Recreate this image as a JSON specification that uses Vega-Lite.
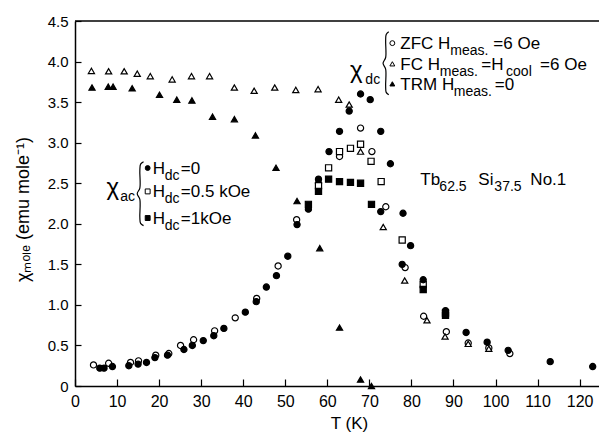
{
  "$schema": "https://vega.github.io/schema/vega-lite/v6.json",
  "width": 524,
  "height": 365,
  "autosize": {"type": "none"},
  "padding": {"left": 75, "top": 21, "right": 0, "bottom": 48},
  "background": "white",
  "config": {"view": {"stroke": null}, "font": "Liberation Sans"},
  "datasets": {
    "pts": [
      {"T": 4.4, "chi": 0.26, "s": "ZFC"}, {"T": 8.0, "chi": 0.28, "s": "ZFC"}, {"T": 13.2, "chi": 0.29, "s": "ZFC"}, {"T": 15.1, "chi": 0.31, "s": "ZFC"},
      {"T": 19.2, "chi": 0.38, "s": "ZFC"}, {"T": 22.3, "chi": 0.40, "s": "ZFC"}, {"T": 25.1, "chi": 0.50, "s": "ZFC"}, {"T": 28.2, "chi": 0.57, "s": "ZFC"},
      {"T": 33.2, "chi": 0.68, "s": "ZFC"}, {"T": 38.1, "chi": 0.84, "s": "ZFC"}, {"T": 43.2, "chi": 1.08, "s": "ZFC"}, {"T": 48.3, "chi": 1.48, "s": "ZFC"},
      {"T": 52.7, "chi": 2.05, "s": "ZFC"}, {"T": 57.9, "chi": 2.50, "s": "ZFC"}, {"T": 62.9, "chi": 2.83, "s": "ZFC"}, {"T": 67.9, "chi": 3.18, "s": "ZFC"},
      {"T": 70.6, "chi": 2.89, "s": "ZFC"}, {"T": 73.9, "chi": 2.21, "s": "ZFC"}, {"T": 78.5, "chi": 1.46, "s": "ZFC"}, {"T": 82.9, "chi": 0.86, "s": "ZFC"},
      {"T": 88.3, "chi": 0.67, "s": "ZFC"}, {"T": 93.5, "chi": 0.53, "s": "ZFC"}, {"T": 98.4, "chi": 0.47, "s": "ZFC"}, {"T": 103.4, "chi": 0.40, "s": "ZFC"},
      {"T": 3.9, "chi": 3.885, "s": "FC"}, {"T": 8.0, "chi": 3.88, "s": "FC"}, {"T": 11.7, "chi": 3.88, "s": "FC"}, {"T": 14.8, "chi": 3.85, "s": "FC"},
      {"T": 17.9, "chi": 3.82, "s": "FC"}, {"T": 23.1, "chi": 3.78, "s": "FC"}, {"T": 27.7, "chi": 3.82, "s": "FC"}, {"T": 32.0, "chi": 3.82, "s": "FC"},
      {"T": 37.9, "chi": 3.68, "s": "FC"}, {"T": 42.6, "chi": 3.64, "s": "FC"}, {"T": 47.5, "chi": 3.68, "s": "FC"}, {"T": 52.5, "chi": 3.65, "s": "FC"},
      {"T": 57.8, "chi": 3.66, "s": "FC"}, {"T": 62.7, "chi": 3.53, "s": "FC"}, {"T": 65.2, "chi": 3.47, "s": "FC"}, {"T": 67.9, "chi": 2.89, "s": "FC"},
      {"T": 73.3, "chi": 1.96, "s": "FC"}, {"T": 78.4, "chi": 1.30, "s": "FC"}, {"T": 83.7, "chi": 0.81, "s": "FC"}, {"T": 88.0, "chi": 0.61, "s": "FC"},
      {"T": 93.5, "chi": 0.52, "s": "FC"}, {"T": 98.4, "chi": 0.46, "s": "FC"},
      {"T": 4.05, "chi": 3.68, "s": "TRM"}, {"T": 7.9, "chi": 3.69, "s": "TRM"}, {"T": 9.05, "chi": 3.69, "s": "TRM"}, {"T": 13.6, "chi": 3.67, "s": "TRM"},
      {"T": 20.1, "chi": 3.59, "s": "TRM"}, {"T": 24.2, "chi": 3.53, "s": "TRM"}, {"T": 27.8, "chi": 3.52, "s": "TRM"}, {"T": 32.7, "chi": 3.32, "s": "TRM"},
      {"T": 37.9, "chi": 3.29, "s": "TRM"}, {"T": 42.9, "chi": 3.09, "s": "TRM"}, {"T": 47.8, "chi": 2.69, "s": "TRM"}, {"T": 52.8, "chi": 2.28, "s": "TRM"},
      {"T": 58.2, "chi": 1.70, "s": "TRM"}, {"T": 62.9, "chi": 0.72, "s": "TRM"}, {"T": 67.9, "chi": 0.08, "s": "TRM"}, {"T": 70.5, "chi": 0.0, "s": "TRM"},
      {"T": 57.9, "chi": 2.47, "s": "ac05"}, {"T": 60.3, "chi": 2.69, "s": "ac05"}, {"T": 62.9, "chi": 2.89, "s": "ac05"}, {"T": 65.5, "chi": 2.93, "s": "ac05"},
      {"T": 67.9, "chi": 2.98, "s": "ac05"}, {"T": 70.4, "chi": 2.77, "s": "ac05"}, {"T": 72.8, "chi": 2.52, "s": "ac05"}, {"T": 77.8, "chi": 1.80, "s": "ac05"},
      {"T": 82.8, "chi": 1.25, "s": "ac05"}, {"T": 88.1, "chi": 0.90, "s": "ac05"},
      {"T": 55.5, "chi": 2.24, "s": "ac1"}, {"T": 57.9, "chi": 2.40, "s": "ac1"}, {"T": 60.3, "chi": 2.55, "s": "ac1"}, {"T": 62.9, "chi": 2.52, "s": "ac1"},
      {"T": 65.5, "chi": 2.51, "s": "ac1"}, {"T": 67.9, "chi": 2.50, "s": "ac1"}, {"T": 70.5, "chi": 2.24, "s": "ac1"}, {"T": 82.8, "chi": 1.19, "s": "ac1"},
      {"T": 88.1, "chi": 0.87, "s": "ac1"},
      {"T": 5.9, "chi": 0.22, "s": "ac0"}, {"T": 6.9, "chi": 0.22, "s": "ac0"}, {"T": 8.9, "chi": 0.24, "s": "ac0"}, {"T": 12.8, "chi": 0.25, "s": "ac0"},
      {"T": 15.0, "chi": 0.27, "s": "ac0"}, {"T": 17.0, "chi": 0.29, "s": "ac0"}, {"T": 19.0, "chi": 0.35, "s": "ac0"}, {"T": 22.0, "chi": 0.38, "s": "ac0"},
      {"T": 25.9, "chi": 0.45, "s": "ac0"}, {"T": 27.9, "chi": 0.50, "s": "ac0"}, {"T": 30.5, "chi": 0.56, "s": "ac0"}, {"T": 33.0, "chi": 0.62, "s": "ac0"},
      {"T": 35.4, "chi": 0.71, "s": "ac0"}, {"T": 40.5, "chi": 0.91, "s": "ac0"}, {"T": 43.1, "chi": 1.04, "s": "ac0"}, {"T": 45.5, "chi": 1.22, "s": "ac0"},
      {"T": 47.9, "chi": 1.36, "s": "ac0"}, {"T": 50.6, "chi": 1.60, "s": "ac0"}, {"T": 52.8, "chi": 1.99, "s": "ac0"}, {"T": 55.5, "chi": 2.18, "s": "ac0"},
      {"T": 57.9, "chi": 2.55, "s": "ac0"}, {"T": 60.4, "chi": 2.89, "s": "ac0"}, {"T": 62.9, "chi": 3.14, "s": "ac0"}, {"T": 65.2, "chi": 3.39, "s": "ac0"},
      {"T": 67.9, "chi": 3.60, "s": "ac0"}, {"T": 70.2, "chi": 3.53, "s": "ac0"}, {"T": 72.7, "chi": 3.14, "s": "ac0"}, {"T": 75.0, "chi": 2.74, "s": "ac0"},
      {"T": 72.7, "chi": 2.15, "s": "ac0"}, {"T": 78.0, "chi": 2.13, "s": "ac0"}, {"T": 79.8, "chi": 1.73, "s": "ac0"}, {"T": 77.8, "chi": 1.50, "s": "ac0"},
      {"T": 82.8, "chi": 1.31, "s": "ac0"}, {"T": 88.1, "chi": 0.93, "s": "ac0"}, {"T": 93.0, "chi": 0.66, "s": "ac0"}, {"T": 98.0, "chi": 0.54, "s": "ac0"},
      {"T": 103.0, "chi": 0.44, "s": "ac0"}, {"T": 113.0, "chi": 0.30, "s": "ac0"}, {"T": 123.1, "chi": 0.24, "s": "ac0"}
    ],
    "legsym": [
      {"T": 75.46, "chi": 4.227, "s": "ZFC"}, {"T": 75.46, "chi": 3.972, "s": "FC"}, {"T": 75.46, "chi": 3.725, "s": "TRM"},
      {"T": 17.28, "chi": 2.687, "s": "ac0"}, {"T": 17.28, "chi": 2.399, "s": "ac05"}, {"T": 17.28, "chi": 2.071, "s": "ac1"}
    ],
    "braces": [
      {"b": "dc", "i": 1, "T": 74.6, "chi": 4.366}, {"b": "dc", "i": 2, "T": 74.0, "chi": 4.335}, {"b": "dc", "i": 3, "T": 73.87, "chi": 4.26},
      {"b": "dc", "i": 4, "T": 73.87, "chi": 4.05}, {"b": "dc", "i": 5, "T": 73.25, "chi": 3.978}, {"b": "dc", "i": 6, "T": 73.87, "chi": 3.906},
      {"b": "dc", "i": 7, "T": 73.87, "chi": 3.70}, {"b": "dc", "i": 8, "T": 74.0, "chi": 3.62}, {"b": "dc", "i": 9, "T": 74.6, "chi": 3.59},
      {"b": "ac", "i": 1, "T": 16.3, "chi": 2.765}, {"b": "ac", "i": 2, "T": 15.6, "chi": 2.735}, {"b": "ac", "i": 3, "T": 15.42, "chi": 2.66},
      {"b": "ac", "i": 4, "T": 15.42, "chi": 2.44}, {"b": "ac", "i": 5, "T": 14.8, "chi": 2.371}, {"b": "ac", "i": 6, "T": 15.42, "chi": 2.30},
      {"b": "ac", "i": 7, "T": 15.42, "chi": 2.08}, {"b": "ac", "i": 8, "T": 15.6, "chi": 2.005}, {"b": "ac", "i": 9, "T": 16.3, "chi": 1.977}
    ],
    "main": [
      {"T": 77.36, "chi": 4.153, "text": "ZFC H"}, {"T": 99.48, "chi": 4.153, "text": "=6 Oe"},
      {"T": 77.36, "chi": 3.898, "text": "FC H"}, {"T": 96.6, "chi": 3.898, "text": "=H"}, {"T": 110.6, "chi": 3.898, "text": "=6 Oe"},
      {"T": 77.36, "chi": 3.651, "text": "TRM H"}, {"T": 99.83, "chi": 3.651, "text": "=0"},
      {"T": 18.46, "chi": 2.613, "text": "H"}, {"T": 25.17, "chi": 2.613, "text": "=0"},
      {"T": 18.46, "chi": 2.328, "text": "H"}, {"T": 25.17, "chi": 2.328, "text": "=0.5 kOe"},
      {"T": 18.46, "chi": 2.001, "text": "H"}, {"T": 25.17, "chi": 2.001, "text": "=1kOe"},
      {"T": 82.12, "chi": 2.48, "text": "Tb"}, {"T": 95.91, "chi": 2.48, "text": "Si"}, {"T": 108.28, "chi": 2.48, "text": "No.1"}
    ],
    "sub": [
      {"T": 89.25, "chi": 4.153, "text": "meas."},
      {"T": 86.76, "chi": 3.898, "text": "meas."}, {"T": 102.5, "chi": 3.898, "text": "cool"},
      {"T": 90.08, "chi": 3.651, "text": "meas."},
      {"T": 21.36, "chi": 2.613, "text": "dc"}, {"T": 21.36, "chi": 2.328, "text": "dc"}, {"T": 21.36, "chi": 2.001, "text": "dc"},
      {"T": 86.64, "chi": 2.48, "text": "62.5"}, {"T": 99.72, "chi": 2.48, "text": "37.5"},
      {"T": 69.04, "chi": 3.799, "text": "dc"}, {"T": 10.78, "chi": 2.358, "text": "ac"}
    ],
    "chis": [
      {"T": 66.86, "chi": 3.799, "text": "χ"}, {"T": 9.0, "chi": 2.358, "text": "χ"}
    ]
  },
  "layer": [
    {
      "data": {"name": "pts"},
      "mark": {"type": "point", "filled": true, "stroke": "black", "strokeWidth": 1.2, "size": 38, "opacity": 1},
      "encoding": {
        "x": {
          "field": "T", "type": "quantitative",
          "scale": {"domain": [0, 124.6], "nice": false, "zero": false},
          "axis": {
            "values": [0, 10, 20, 30, 40, 50, 60, 70, 80, 90, 100, 110, 120],
            "title": "T (K)", "titleFontSize": 17, "titleFontWeight": "normal", "titleColor": "black",
            "titleX": 274, "titleY": 42, "titleAlign": "center", "titleBaseline": "alphabetic",
            "labelFontSize": 16, "labelColor": "black", "labelPadding": 14, "labelFlush": false, "labelOverlap": false,
            "tickSize": -7, "tickColor": "black", "tickWidth": 1.2,
            "domainColor": "black", "domainWidth": 1.5, "grid": false
          }
        },
        "y": {
          "field": "chi", "type": "quantitative",
          "scale": {"domain": [0, 4.5], "nice": false},
          "axis": {
            "values": [0, 0.5, 1, 1.5, 2, 2.5, 3, 3.5, 4, 4.5],
            "labelExpr": "datum.value === 0 ? '0' : format(datum.value, '.1f')",
            "title": "χₘₒₗₑ (emu mole⁻¹)", "titleFontSize": 18, "titleFontWeight": "normal", "titleColor": "black",
            "titleX": -52, "titleY": 188, "titleAngle": -90, "titleAlign": "center", "titleBaseline": "middle",
            "labelFontSize": 15, "labelColor": "black", "labelPadding": 13, "labelFlush": false, "labelOverlap": false,
            "tickSize": -6, "tickColor": "black", "tickWidth": 1.2,
            "domainColor": "black", "domainWidth": 1.5, "grid": false
          }
        },
        "shape": {
          "field": "s", "type": "nominal", "legend": null,
          "scale": {"domain": ["ZFC", "FC", "TRM", "ac0", "ac05", "ac1"], "range": ["circle", "triangle-up", "triangle-up", "circle", "square", "square"]}
        },
        "fill": {
          "field": "s", "type": "nominal", "legend": null,
          "scale": {"domain": ["ZFC", "FC", "TRM", "ac0", "ac05", "ac1"], "range": ["white", "white", "black", "black", "white", "black"]}
        }
      }
    },
    {
      "data": {"name": "legsym"},
      "mark": {"type": "point", "filled": true, "stroke": "black", "strokeWidth": 1, "size": 24, "opacity": 1},
      "encoding": {
        "x": {"field": "T", "type": "quantitative"},
        "y": {"field": "chi", "type": "quantitative"},
        "shape": {"field": "s", "type": "nominal", "legend": null},
        "fill": {"field": "s", "type": "nominal", "legend": null}
      }
    },
    {
      "data": {"name": "braces"},
      "mark": {"type": "line", "stroke": "black", "strokeWidth": 1.2, "interpolate": "catmull-rom"},
      "encoding": {
        "x": {"field": "T", "type": "quantitative"},
        "y": {"field": "chi", "type": "quantitative"},
        "detail": {"field": "b", "type": "nominal"},
        "order": {"field": "i", "type": "quantitative"}
      }
    },
    {
      "data": {"name": "main"},
      "mark": {"type": "text", "align": "left", "baseline": "alphabetic", "fontSize": 17, "color": "black"},
      "encoding": {
        "x": {"field": "T", "type": "quantitative"},
        "y": {"field": "chi", "type": "quantitative"},
        "text": {"field": "text", "type": "nominal"}
      }
    },
    {
      "data": {"name": "sub"},
      "mark": {"type": "text", "align": "left", "baseline": "alphabetic", "fontSize": 14, "dy": 6, "color": "black"},
      "encoding": {
        "x": {"field": "T", "type": "quantitative"},
        "y": {"field": "chi", "type": "quantitative"},
        "text": {"field": "text", "type": "nominal"}
      }
    },
    {
      "data": {"name": "chis"},
      "mark": {"type": "text", "align": "center", "baseline": "alphabetic", "fontSize": 24, "color": "black"},
      "encoding": {
        "x": {"field": "T", "type": "quantitative"},
        "y": {"field": "chi", "type": "quantitative"},
        "text": {"field": "text", "type": "nominal"}
      }
    },
    {
      "data": {"values": [{}]},
      "mark": {"type": "rule", "stroke": "black", "strokeWidth": 1.5},
      "encoding": {"y": {"datum": 4.5, "type": "quantitative"}}
    }
  ]
}
